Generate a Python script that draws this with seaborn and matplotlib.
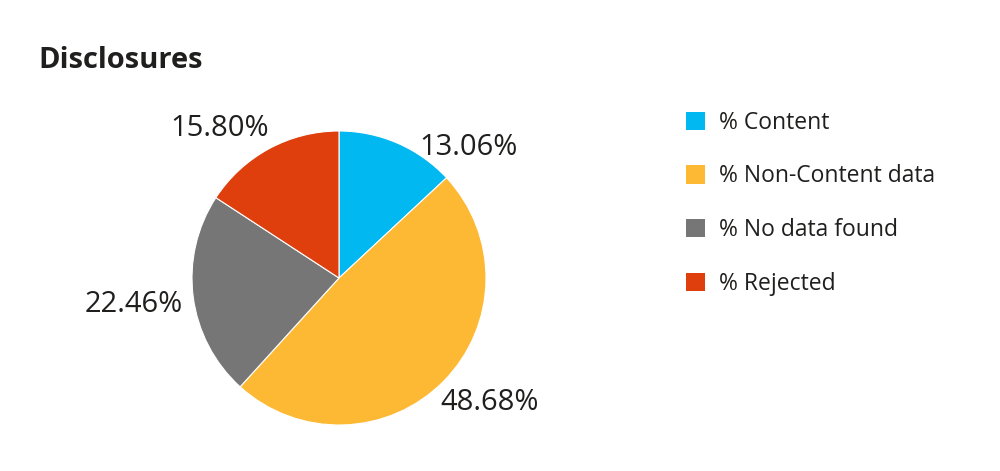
import matplotlib
matplotlib.use('Agg')
import matplotlib.pyplot as plt
import matplotlib.transforms as mtransforms
from matplotlib.patches import Patch
import seaborn as sns

categories = ['% Content', '% Non-Content data', '% No data found', '% Rejected']
shares = [13.06, 48.68, 22.46, 15.80]
colors = ['#01B8F0', '#FDB933', '#767676', '#DE3F0D']
title = 'Disclosures'

# small pixel nudges for the data labels (Power BI style placement)
label_nudge_px = [(19, -11), (-8, -16), (-3, -7), (3, 14)]

sns.set_theme(style='white')
plt.rcParams['font.family'] = ['Open Sans', 'DejaVu Sans']

fig = plt.figure(figsize=(10, 4.71), dpi=100)
fig.patch.set_facecolor('white')

# pie box: centre ~(339, 278) px, radius ~147 px
r_px = 147
ax = fig.add_axes([(339 - r_px) / 1000, (471 - 278 - r_px) / 471,
                   2 * r_px / 1000, 2 * r_px / 471])
labels = [f'{v:.2f}%' for v in shares]
wedges, texts = ax.pie(shares, colors=colors, startangle=90, counterclock=False,
                       labels=labels, labeldistance=1.05, radius=1,
                       wedgeprops=dict(linewidth=0.8, edgecolor='white'),
                       textprops=dict(fontsize=21, color='#201F1E'))
for t, (dx, dy) in zip(texts, label_nudge_px):
    t.set_transform(mtransforms.offset_copy(t.get_transform(), fig=fig,
                                            x=dx * 0.72, y=dy * 0.72, units='points'))
ax.set_xlim(-1, 1)
ax.set_ylim(-1, 1)
ax.set_aspect('equal')
ax.axis('off')

fig.text(0.038, 1 - 61 / 471, title, fontsize=21, fontweight='bold',
         color='#201F1E', va='center', ha='left')

handles = [Patch(facecolor=c, edgecolor='none') for c in colors]
fig.legend(handles, categories, loc='upper left', bbox_to_anchor=(0.665, 1 - 90 / 471),
           frameon=False, fontsize=16.5, handlelength=0.85, handleheight=0.85,
           handletextpad=0.6, labelspacing=1.3, labelcolor='#201F1E')

fig.savefig('out.png', dpi=100, facecolor='white')
